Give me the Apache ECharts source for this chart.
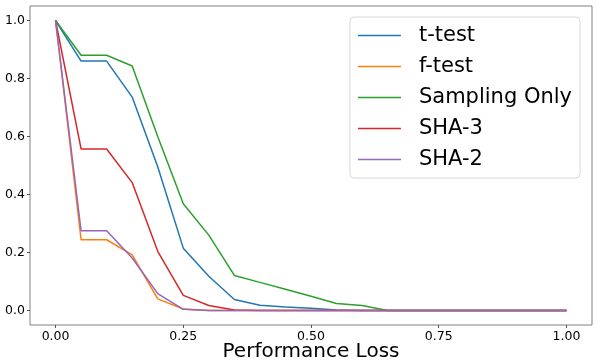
<!DOCTYPE html>
<html>
<head>
<meta charset="utf-8">
<script src="https://cdn.jsdelivr.net/npm/echarts@6/dist/echarts.min.js"></script>
<style>
html, body { margin: 0; padding: 0; background: #fff; }
#main { width: 598px; height: 361px; }
</style>
</head>
<body>
<div id="main"></div>
<script>
var xValues = [0, 0.05, 0.10, 0.15, 0.20, 0.25, 0.30, 0.35, 0.40, 0.45, 0.50,
               0.55, 0.60, 0.65, 0.70, 0.75, 0.80, 0.85, 0.90, 0.95, 1.00];
var tTest = [1.0, 0.86, 0.86, 0.736, 0.496, 0.215, 0.118, 0.038, 0.018, 0.012, 0.008,
             0.002, 0, 0, 0, 0, 0, 0, 0, 0, 0];
var fTest = [1.0, 0.244, 0.244, 0.192, 0.040, 0.005, 0, 0, 0, 0, 0,
             0, 0, 0, 0, 0, 0, 0, 0, 0, 0];
var samplingOnly = [1.0, 0.88, 0.88, 0.843, 0.60, 0.368, 0.26, 0.121, 0.097, 0.073, 0.049,
                    0.024, 0.017, 0, 0, 0, 0, 0, 0, 0, 0];
var sha3 = [1.0, 0.557, 0.557, 0.441, 0.204, 0.052, 0.017, 0.002, 0, 0, 0,
            0, 0, 0, 0, 0, 0, 0, 0, 0, 0];
var sha2 = [1.0, 0.275, 0.275, 0.181, 0.058, 0.004, 0, 0, 0, 0, 0,
            0, 0, 0, 0, 0, 0, 0, 0, 0, 0];
var xTicks = [0, 0.25, 0.5, 0.75, 1.0];
var yTicks = [0, 0.2, 0.4, 0.6, 0.8, 1.0];

var seriesNames = ['t-test', 'f-test', 'Sampling Only', 'SHA-3', 'SHA-2'];
var seriesData = [tTest, fTest, samplingOnly, sha3, sha2];
var colors = ['#1f77b4', '#ff7f0e', '#2ca02c', '#d62728', '#9467bd'];

function pairs(ys) {
    var out = [];
    for (var i = 0; i < xValues.length; i++) {
        out.push([xValues[i], ys[i]]);
    }
    return out;
}

var series = [];
for (var i = 0; i < seriesNames.length; i++) {
    series.push({
        name: seriesNames[i],
        type: 'line',
        symbol: 'none',
        data: pairs(seriesData[i]),
        lineStyle: { width: 1.5, color: colors[i] },
        itemStyle: { color: colors[i] }
    });
}

var myChart = echarts.init(document.getElementById('main'));
var option = {
    animation: false,
    color: colors,
    textStyle: { fontFamily: 'DejaVu Sans' },
    grid: {
        left: 30, right: 6, top: 6, bottom: 36,
        outerBoundsMode: 'none',
        containLabel: false,
        show: true,
        borderColor: '#808080',
        borderWidth: 1
    },
    legend: {
        orient: 'vertical',
        right: 18,
        top: 17,
        padding: [6, 8, 6, 8],
        icon: 'rect',
        itemWidth: 43,
        itemHeight: 1.5,
        itemGap: 6,
        backgroundColor: '#fff',
        borderColor: '#d8d8d8',
        borderWidth: 1,
        borderRadius: 4,
        textStyle: {
            fontSize: 21, lineHeight: 25, color: '#000', fontFamily: 'DejaVu Sans',
            padding: [0, 0, 0, 13]
        },
        data: seriesNames
    },
    xAxis: {
        type: 'value',
        min: -0.05,
        max: 1.05,
        name: 'Performance Loss',
        nameLocation: 'middle',
        nameGap: 17,
        nameMoveOverlap: false,
        nameTextStyle: { fontSize: 20, color: '#000', fontFamily: 'DejaVu Sans', verticalAlign: 'top' },
        splitLine: { show: false },
        axisLine: { show: false, onZero: false },
        axisTick: { show: true, length: 3, lineStyle: { color: '#555' }, customValues: xTicks },
        axisLabel: {
            fontSize: 12.5, color: '#000', margin: 5,
            customValues: xTicks,
            formatter: function (v) { return v.toFixed(2); }
        }
    },
    yAxis: {
        type: 'value',
        min: -0.05,
        max: 1.05,
        splitLine: { show: false },
        axisLine: { show: false, onZero: false },
        axisTick: { show: true, length: 3, lineStyle: { color: '#555' }, customValues: yTicks },
        axisLabel: {
            fontSize: 12.5, color: '#000', margin: 5,
            customValues: yTicks,
            formatter: function (v) { return v.toFixed(1); }
        }
    },
    series: series
};

myChart.setOption(option, true);
window.onresize = myChart.resize;
</script>
</body>
</html>
